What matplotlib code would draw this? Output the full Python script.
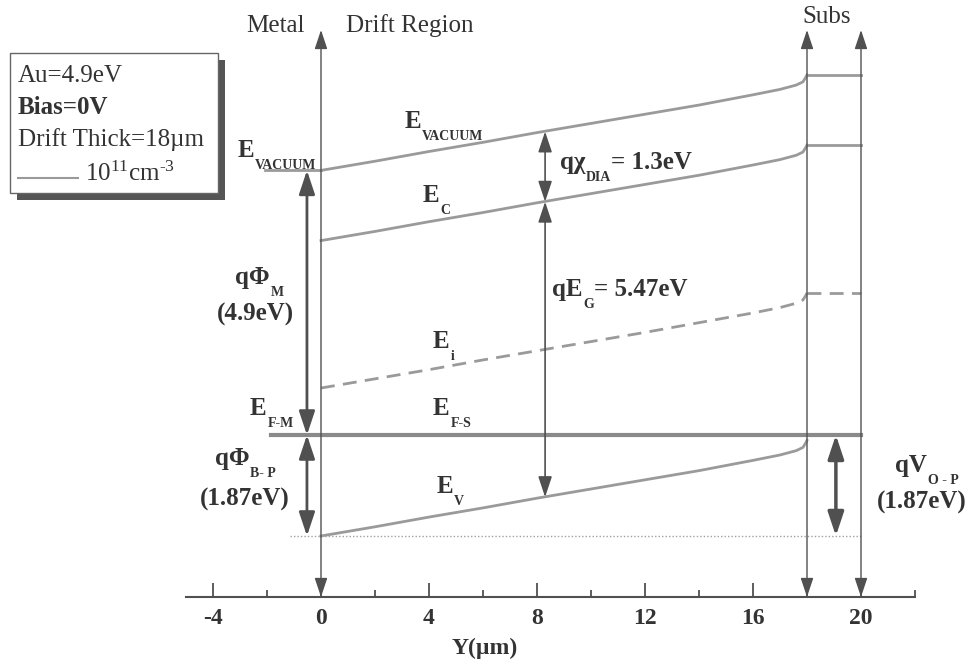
import matplotlib
matplotlib.use("Agg")
import matplotlib.pyplot as plt
from matplotlib.patches import Rectangle
from matplotlib.lines import Line2D

plt.rcParams['font.family'] = ['Liberation Serif', 'DejaVu Serif']
plt.rcParams['mathtext.fontset'] = 'custom'
plt.rcParams['mathtext.rm'] = 'Liberation Serif'
plt.rcParams['mathtext.it'] = 'Liberation Serif:bold'
plt.rcParams['mathtext.bf'] = 'Liberation Serif:bold'
plt.rcParams['axes.unicode_minus'] = False

# band edges in the drift region (eV, E_F = 0)
y_um = [0, 2, 4, 6, 8, 10, 12, 14, 16, 17, 17.6, 17.85, 17.95, 18]
E_v = [-1.87, -1.70, -1.52, -1.35, -1.17, -1.00, -0.83, -0.66, -0.47, -0.37, -0.29, -0.23, -0.15, -0.10]
E_c = [3.60, 3.77, 3.95, 4.12, 4.30, 4.47, 4.64, 4.81, 5.00, 5.10, 5.18, 5.24, 5.32, 5.37]
E_vac = [4.90, 5.07, 5.25, 5.42, 5.60, 5.77, 5.94, 6.11, 6.30, 6.40, 6.48, 6.54, 6.62, 6.67]
E_i = [0.87, 1.04, 1.21, 1.39, 1.56, 1.73, 1.90, 2.08, 2.26, 2.36, 2.44, 2.50, 2.58, 2.63]

# substrate (flat)
y_subs = [18, 20]
E_c_subs = [5.37, 5.37]
E_vac_subs = [6.67, 6.67]
E_i_subs = [2.63, 2.63]

# metal side, Fermi level, reference dotted line
y_metal = [-2.07, 0]
E_vac_metal = [4.9, 4.9]
y_fermi = [-1.85, 20]
E_fermi = [0, 0]
y_dot = [-1.15, 20]
E_dot = [-1.87, -1.87]

boundaries = [0, 18, 20]
x_ticks = [-4, 0, 4, 8, 12, 16, 20]
x_minor = [-2, 2, 6, 10, 14, 18, 22]

band = '#9a9a9a'
dark = '#505050'
tc = '#333333'
W, H = 970, 669

fig = plt.figure(figsize=(9.7, 6.69), dpi=100)
ax = fig.add_axes([0, 0, 1, 1])
ax.set_xlim(-321 / 27, (W - 321) / 27)
ax.set_ylim(-(H - 435) / 54, 435 / 54)
ax.patch.set_alpha(0)


def px(x, y):
    # picture pixel -> data coords
    return (x - 321) / 27, (435 - y) / 54


ax.plot(y_um, E_vac, color=band, lw=2)
ax.plot(y_um, E_c, color=band, lw=2)
ax.plot(y_um, E_v, color=band, lw=2)
ax.plot(y_um, E_i, color=band, lw=2, ls=(0, (5, 3)))
ax.plot(y_subs, E_vac_subs, color=band, lw=2)
ax.plot(y_subs, E_c_subs, color=band, lw=2)
ax.plot(y_subs, E_i_subs, color=band, lw=2, ls=(0, (5, 3)))
ax.plot(y_metal, E_vac_metal, color=band, lw=2)
ax.plot(y_fermi, E_fermi, color='#8a8a8a', lw=3)
ax.plot(y_dot, E_dot, color='#a0a0a0', lw=1, ls=(0, (1, 1.5)))

# boundary lines with arrowheads on both ends
for b in boundaries:
    ax.annotate('', xy=(b, 7.5), xytext=(b, -3.0),
                arrowprops=dict(arrowstyle='<|-|>,head_length=0.9,head_width=0.3',
                                color=dark, lw=1, shrinkA=0, shrinkB=0,
                                mutation_scale=13))


def darrow(x, e0, e1, lw, ms=14):
    ax.annotate('', xy=(x, e1), xytext=(x, e0),
                arrowprops=dict(arrowstyle='<|-|>,head_length=0.9,head_width=0.3',
                                color=dark, lw=lw, shrinkA=0, shrinkB=0,
                                mutation_scale=ms))


darrow(-0.52, 0, 4.9, 2, 16)
darrow(-0.52, -1.87, 0, 2, 16)
darrow(8.3, 4.32, 5.62, 1.2, 14)
darrow(8.3, -1.15, 4.32, 1.2, 14)
darrow(19.07, -1.87, 0, 2.5, 16)

# bottom axis
for s in ['top', 'left', 'right']:
    ax.spines[s].set_visible(False)
ax.spines['bottom'].set_position(('data', -3.0))
ax.spines['bottom'].set_bounds(-5, 22)
ax.spines['bottom'].set_color(dark)
ax.spines['bottom'].set_linewidth(1.5)
ax.yaxis.set_visible(False)
ax.set_xticks(x_ticks)
ax.set_xticks(x_minor, minor=True)
ax.tick_params(axis='x', which='major', direction='in', length=10, width=1.3,
               color=dark, labelsize=17, pad=8, labelcolor=tc)
ax.tick_params(axis='x', which='minor', direction='in', length=5, width=1.3, color=dark)
for t in ax.get_xticklabels():
    t.set_fontweight('bold')
ax.set_xlabel('Y(µm)', fontsize=17, fontweight='bold', color=tc, labelpad=6)


def sublabel(x, y, main, sub, tail='', fs=18, sfs=10):
    # main text with a low-set subscript, then optional tail text
    t = ax.text(*px(x, y), main, fontsize=fs, fontweight='bold', color=tc,
                ha='left', va='baseline')
    s = ax.annotate(sub, xy=(1, 0), xycoords=t, xytext=(0.5, 2.5),
                    textcoords='offset points', fontsize=sfs, fontweight='bold',
                    color=tc, ha='left', va='top')
    if tail:
        ax.annotate(tail, xy=(1, 0), xycoords=(s, t), xytext=(0, 0),
                    textcoords='offset points', fontsize=fs, fontweight='bold',
                    color=tc, ha='left', va='bottom')


def plain(x, y, s, bold=True, fs=18):
    ax.text(*px(x, y), s, fontsize=fs, fontweight='bold' if bold else 'normal',
            color=tc, ha='center', va='center')


plain(275, 26, 'Metal', bold=False)
plain(410, 26, 'Drift Region', bold=False)
plain(827, 17, 'Subs', bold=False)

sublabel(238, 157, 'E', 'VACUUM')
sublabel(405, 128, 'E', 'VACUUM')
sublabel(423, 202, 'E', 'C')
sublabel(560, 169, 'qχ', 'DIA', '= 1.3eV')
sublabel(552, 296, 'qE', 'G', '= 5.47eV')
sublabel(433, 348, 'E', 'i')
sublabel(250, 415, 'E', 'F-M')
sublabel(433, 415, 'E', 'F-S')
sublabel(437, 493, 'E', 'V')
sublabel(235, 284, 'qΦ', 'M')
plain(255, 314, '(4.9eV)')
sublabel(215, 465, 'qΦ', 'B- P')
plain(245, 499, '(1.87eV)')
sublabel(895, 472, 'qV', 'O - P')
plain(922, 502, '(1.87eV)')

# info box with shadow (pixel coordinates -> figure fraction)
fig.patches.append(Rectangle((17 / W, 1 - 200 / H), 208 / W, 140 / H,
                             transform=fig.transFigure, facecolor='#555555',
                             edgecolor='none', zorder=1))
fig.patches.append(Rectangle((10 / W, 1 - 193 / H), 208 / W, 140 / H,
                             transform=fig.transFigure, facecolor='white',
                             edgecolor='#666666', lw=1, zorder=2))
fig.text(18 / W, 1 - 76 / H, 'Au=4.9eV', fontsize=18, color=tc, va='center', zorder=5)
fig.text(18 / W, 1 - 107 / H, 'Bias=0V', fontsize=18, color=tc, va='center',
         fontweight='bold', zorder=5)
fig.text(18 / W, 1 - 140 / H, 'Drift Thick=18µm', fontsize=18, color=tc, va='center', zorder=5)
fig.add_artist(Line2D([18 / W, 78 / W], [1 - 178 / H, 1 - 178 / H],
                      transform=fig.transFigure, color=band, lw=1.5, zorder=5))
fig.text(85 / W, 1 - 174 / H, r'10$^{\mathregular{11}}$cm$^{\mathregular{\text{-}3}}$',
         fontsize=18, color=tc, va='center', zorder=5)

fig.savefig('out.png', dpi=100)
